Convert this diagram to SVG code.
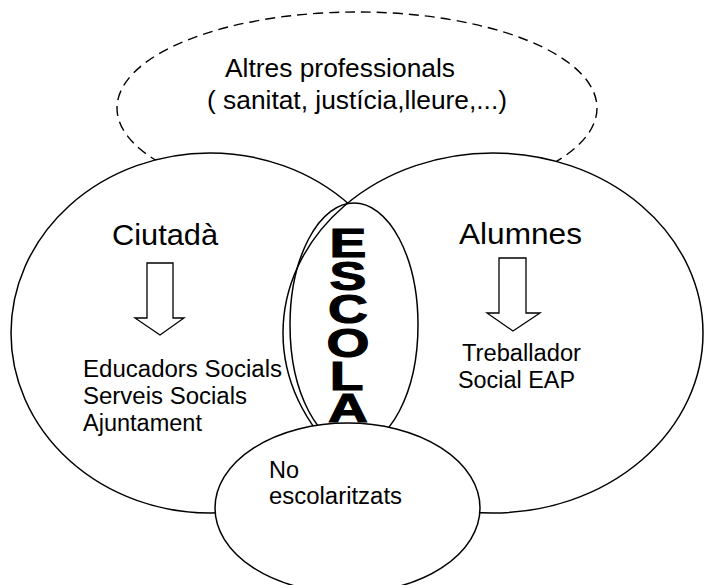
<svg xmlns="http://www.w3.org/2000/svg" width="704" height="585" viewBox="0 0 704 585">
<style>
.sh{fill:#fff;stroke:#000;stroke-width:1.5}
.nf{fill:none;stroke:#000;stroke-width:1.5}
.dash{fill:#fff;stroke:#000;stroke-width:1.4;stroke-dasharray:10 6}
.t{font-family:"Liberation Sans",Arial,sans-serif;fill:#000}
.h{font-size:30px}
.b{font-size:23px}
.top{font-size:26px}
.big{font-family:"Liberation Sans",Arial,sans-serif;font-weight:bold;font-size:40px;fill:#000;stroke:#000;stroke-width:1.1;text-anchor:middle}
.arr{fill:#fff;stroke:#000;stroke-width:1.3;stroke-linejoin:miter}
</style>
<rect width="704" height="585" fill="#fff"/>
<g id="altres">
<ellipse class="dash" cx="357" cy="108" rx="240" ry="96"/>
<text class="t top" x="225" y="77" textLength="230" lengthAdjust="spacingAndGlyphs">Altres professionals</text>
<text class="t top" x="207" y="109" textLength="300" lengthAdjust="spacingAndGlyphs">( sanitat, justícia,lleure,...)</text>
</g>
<g id="ciutada">
<ellipse class="sh" cx="210" cy="333" rx="199" ry="180"/>
</g>
<g id="alumnes">
<ellipse class="sh" cx="493" cy="333" rx="210" ry="180"/>
</g>
<g id="escola">
<ellipse class="nf" cx="354" cy="325" rx="64" ry="122"/>
<g transform="translate(348,0) scale(1.38,1)">
<text class="big" x="0" y="257"><tspan x="0" y="257">E</tspan><tspan x="0" y="290">S</tspan><tspan x="0" y="323">C</tspan><tspan x="0" y="357">O</tspan><tspan x="-1" y="390">L</tspan><tspan x="0" y="422">A</tspan></text>
</g>
</g>
<g id="ciutada-text">
<text class="t h" x="112" y="245" textLength="106" lengthAdjust="spacingAndGlyphs">Ciutadà</text>
<text class="t b" x="83" y="377" textLength="199" lengthAdjust="spacingAndGlyphs">Educadors Socials</text>
<text class="t b" x="83" y="404" textLength="164" lengthAdjust="spacingAndGlyphs">Serveis Socials</text>
<text class="t b" x="83" y="431" textLength="119" lengthAdjust="spacingAndGlyphs">Ajuntament</text>
</g>
<g id="alumnes-text">
<text class="t h" x="459" y="244" textLength="123" lengthAdjust="spacingAndGlyphs">Alumnes</text>
<text class="t b" x="462" y="361" textLength="119" lengthAdjust="spacingAndGlyphs">Treballador</text>
<text class="t b" x="458" y="388" textLength="117" lengthAdjust="spacingAndGlyphs">Social EAP</text>
</g>
<g id="no-escolaritzats">
<ellipse class="sh" cx="347.5" cy="508" rx="132.5" ry="85"/>
<text class="t b" x="269" y="478" textLength="30" lengthAdjust="spacingAndGlyphs">No</text>
<text class="t b" x="269" y="504" textLength="133" lengthAdjust="spacingAndGlyphs">escolaritzats</text>
</g>
<g id="connectors">
<polygon class="arr" points="147,263 173,263 173,318 184,318 160,335 135,318 147,318"/>
<polygon class="arr" points="499,258 526,258 526,313 540,313 513,331 487,313 499,313"/>
</g>
</svg>
